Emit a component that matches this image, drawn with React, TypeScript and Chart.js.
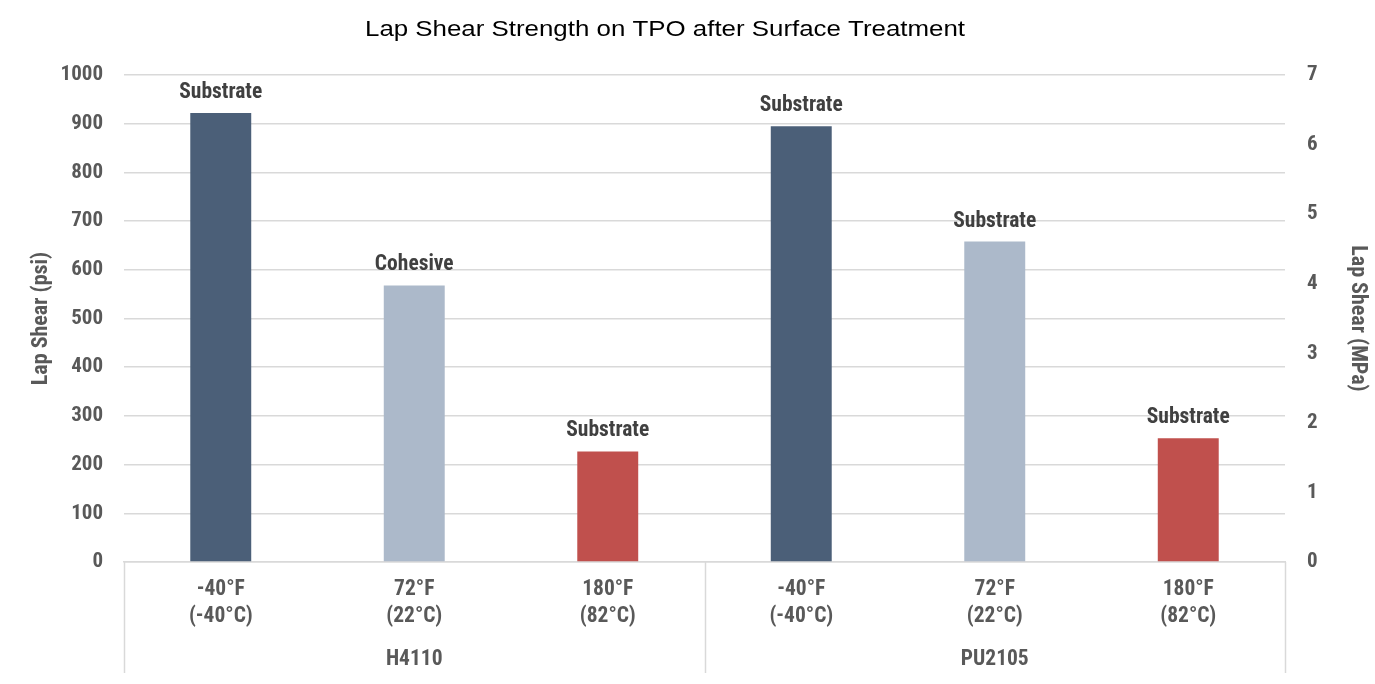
import React, { useEffect, useRef } from "react";
import { Chart, registerables } from "chart.js";

Chart.register(...registerables);

const chartTitle = "Lap Shear Strength on TPO after Surface Treatment";
const categories: string[][] = [
  ["-40°F", "(-40°C)"],
  ["72°F", "(22°C)"],
  ["180°F", "(82°C)"],
  ["-40°F", "(-40°C)"],
  ["72°F", "(22°C)"],
  ["180°F", "(82°C)"],
];
const groups = ["H4110", "PU2105"];
const psiValues = [922, 568, 227, 895, 658, 254];
const failureModes = ["Substrate", "Cohesive", "Substrate", "Substrate", "Substrate", "Substrate"];
const barColors = ["#4B5F78", "#ACB9CA", "#C0504D", "#4B5F78", "#ACB9CA", "#C0504D"];
const leftTitle = "Lap Shear (psi)";
const rightTitle = "Lap Shear (MPa)";

const FONT = "'Liberation Sans Narrow', 'Arial Narrow', 'Roboto Condensed', Roboto, sans-serif";
const TITLE_FONT = "'Liberation Sans', Arial, sans-serif";
const TICK = "#595959";
const GRID = "#D9D9D9";

export default function App() {
  const ref = useRef<HTMLCanvasElement | null>(null);

  useEffect(() => {
    document.body.style.margin = "0";
    if (!ref.current) return;

    const titlePlugin = {
      id: "customTitle",
      afterDraw(chart: any) {
        const ctx = chart.ctx;
        ctx.save();
        ctx.font = `22px ${TITLE_FONT}`;
        ctx.fillStyle = "#000000";
        ctx.textAlign = "center";
        ctx.textBaseline = "alphabetic";
        const w = ctx.measureText(chartTitle).width;
        const target = 600;
        ctx.translate(665, 36);
        ctx.scale(target / w, 1);
        ctx.fillText(chartTitle, 0, 0);
        ctx.restore();
      },
    };

    const labelPlugin = {
      id: "barLabels",
      afterDatasetsDraw(chart: any) {
        const ctx = chart.ctx;
        const meta = chart.getDatasetMeta(0);
        ctx.save();
        ctx.font = `bold 21.5px ${FONT}`;
        ctx.fillStyle = "#404040";
        ctx.textAlign = "center";
        ctx.textBaseline = "alphabetic";
        meta.data.forEach((el: any, i: number) => {
          ctx.fillText(failureModes[i], el.x, el.y - 15);
        });
        ctx.restore();
      },
    };

    const separatorPlugin = {
      id: "separators",
      afterDraw(chart: any) {
        const ctx = chart.ctx;
        const x = chart.scales.x;
        const x2 = chart.scales.x2;
        const mid = (x.getPixelForValue(2) + x.getPixelForValue(3)) / 2;
        const top = chart.chartArea.bottom;
        const bottom = x2.bottom - 11;
        ctx.save();
        ctx.strokeStyle = GRID;
        ctx.lineWidth = 1.5;
        [x.left, mid, x.right].forEach((px: number) => {
          ctx.beginPath();
          ctx.moveTo(Math.round(px) + 0.5, top);
          ctx.lineTo(Math.round(px) + 0.5, bottom);
          ctx.stroke();
        });
        ctx.restore();
      },
    };

    const chart = new Chart(ref.current, {
      type: "bar",
      data: {
        labels: categories,
        datasets: [
          {
            data: psiValues,
            backgroundColor: barColors,
            categoryPercentage: 1,
            barPercentage: 0.315,
            yAxisID: "y",
            xAxisID: "x",
          },
        ],
      },
      options: {
        animation: false,
        responsive: true,
        maintainAspectRatio: false,
        layout: { padding: { top: 75, left: 0, right: 0, bottom: 0 } },
        plugins: {
          legend: { display: false },
          title: { display: false },
          tooltip: { enabled: false },
        },
        scales: {
          x: {
            type: "category",
            position: "bottom",
            grid: { display: false, drawTicks: false },
            border: { display: true, color: GRID, width: 1.5 },
            ticks: {
              color: TICK,
              font: { family: FONT, size: 21.5, weight: "bold", lineHeight: 1.256 },
              padding: 14.5,
              maxRotation: 0,
              autoSkip: false,
            },
            afterFit(scale: any) {
              scale.height = 78;
            },
          },
          x2: {
            type: "category",
            labels: groups,
            position: "bottom",
            offset: true,
            grid: { display: false, drawTicks: false },
            border: { display: false },
            ticks: {
              color: TICK,
              font: { family: FONT, size: 21.5, weight: "bold", lineHeight: 1.2 },
              padding: 7,
              maxRotation: 0,
            },
            afterFit(scale: any) {
              scale.height = 44;
            },
          },
          y: {
            type: "linear",
            position: "left",
            min: 0,
            max: 1000,
            ticks: {
              stepSize: 100,
              color: TICK,
              font: { family: FONT, size: 21, weight: "bold" },
              padding: 21,
              callback: (v: any) => String(v),
            },
            grid: { color: GRID, lineWidth: 1.5, drawTicks: false },
            border: { display: false },
            title: {
              display: true,
              text: leftTitle,
              color: TICK,
              font: { family: FONT, size: 22, weight: "bold", lineHeight: 1.2 },
              padding: { top: 28.5, bottom: 0 },
            },
            afterFit(scale: any) {
              scale.width = 124;
            },
          },
          y2: {
            type: "linear",
            position: "right",
            min: 0,
            max: 7,
            ticks: {
              stepSize: 1,
              color: TICK,
              font: { family: FONT, size: 21, weight: "bold" },
              padding: 22,
              callback: (v: any) => String(v),
            },
            grid: { display: false, drawTicks: false },
            border: { display: false },
            title: {
              display: true,
              text: rightTitle,
              color: TICK,
              font: { family: FONT, size: 22, weight: "bold", lineHeight: 1.2 },
              padding: { top: 4, bottom: 0 },
            },
            afterFit(scale: any) {
              scale.width = 90;
            },
          },
        },
      },
      plugins: [titlePlugin, labelPlugin, separatorPlugin],
    } as any);

    return () => chart.destroy();
  }, []);

  return (
    <div style={{ position: "absolute", left: 0, top: 0, width: 1375, height: 684 }}>
      <canvas ref={ref} />
    </div>
  );
}
